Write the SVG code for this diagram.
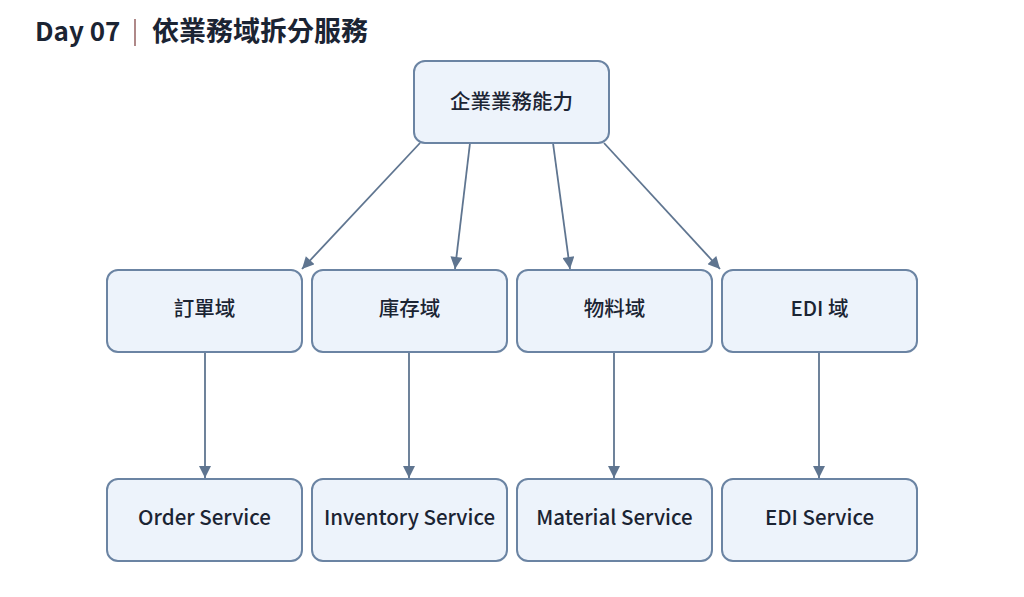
<svg xmlns="http://www.w3.org/2000/svg" width="1024" height="597" viewBox="0 0 1024 597">
<style>
.n{fill:#edf3fb;stroke:#6b84a3;stroke-width:2}
.t{font-family:"Noto Sans CJK TC",sans-serif;font-size:20.5px;font-weight:500;fill:#1b2433;text-anchor:middle;dominant-baseline:central}
.e{stroke:#5f7590;stroke-width:1.8;fill:none;marker-end:url(#a)}
</style>
<defs><marker id="a" viewBox="0 0 10 10" refX="10" refY="5" markerWidth="13" markerHeight="12" orient="auto" markerUnits="userSpaceOnUse"><path d="M0,0L10,5L0,10z" fill="#5f7590"/></marker></defs>
<rect width="1024" height="597" fill="#fff"/>
<text x="35" y="41" font-family="'Noto Sans CJK TC',sans-serif" font-size="26" font-weight="700" fill="#1b2433">Day 07</text>
<line x1="135" y1="19" x2="135" y2="46" stroke="#7a3a3a" stroke-width="1.2"/>
<text x="152" y="41" font-family="'Noto Sans CJK TC',sans-serif" font-size="27" font-weight="700" fill="#1b2433">依業務域拆分服務</text>
<g id="edges">
<line class="e" x1="420" y1="143" x2="302" y2="269"/>
<line class="e" x1="470" y1="143" x2="455" y2="269"/>
<line class="e" x1="553" y1="143" x2="570" y2="269"/>
<line class="e" x1="604" y1="143" x2="720" y2="269"/>
<line class="e" x1="205" y1="352" x2="205" y2="478"/>
<line class="e" x1="409" y1="352" x2="409" y2="478"/>
<line class="e" x1="614" y1="352" x2="614" y2="478"/>
<line class="e" x1="819" y1="352" x2="819" y2="478"/>
</g>
<g id="root"><rect class="n" x="414" y="61" width="195" height="82" rx="11"/><text class="t" x="511.5" y="100">企業業務能力</text></g>
<g id="d1"><rect class="n" x="107" y="270" width="195" height="82" rx="11"/><text class="t" x="204.5" y="307">訂單域</text></g>
<g id="d2"><rect class="n" x="312" y="270" width="195" height="82" rx="11"/><text class="t" x="409.5" y="307">庫存域</text></g>
<g id="d3"><rect class="n" x="517" y="270" width="195" height="82" rx="11"/><text class="t" x="614.5" y="307">物料域</text></g>
<g id="d4"><rect class="n" x="722" y="270" width="195" height="82" rx="11"/><text class="t" x="819.5" y="307">EDI 域</text></g>
<g id="s1"><rect class="n" x="107" y="479" width="195" height="82" rx="11"/><text class="t" x="204.5" y="516">Order Service</text></g>
<g id="s2"><rect class="n" x="312" y="479" width="195" height="82" rx="11"/><text class="t" x="409.5" y="516">Inventory Service</text></g>
<g id="s3"><rect class="n" x="517" y="479" width="195" height="82" rx="11"/><text class="t" x="614.5" y="516">Material Service</text></g>
<g id="s4"><rect class="n" x="722" y="479" width="195" height="82" rx="11"/><text class="t" x="819.5" y="516">EDI Service</text></g>
</svg>
